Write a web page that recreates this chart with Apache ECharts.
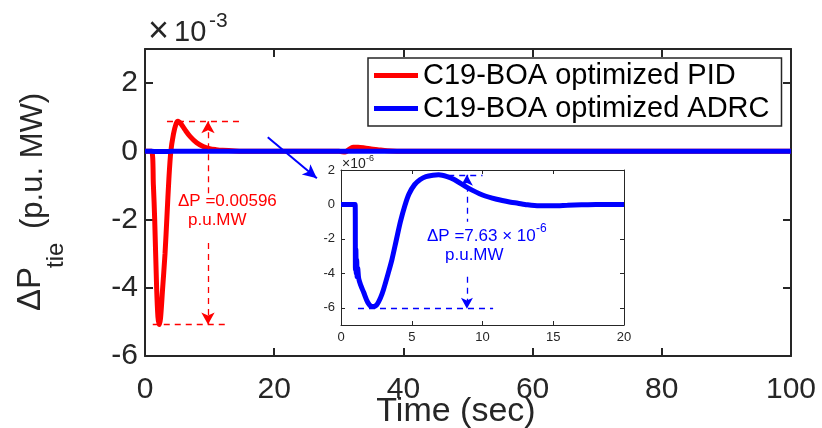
<!DOCTYPE html>
<html>
<head>
<meta charset="utf-8">
<script src="https://cdn.jsdelivr.net/npm/echarts@6/dist/echarts.min.js"></script>
<style>
  html, body { margin: 0; padding: 0; background: #fff; }
  #chart { width: 822px; height: 428px; }
</style>
</head>
<body>
<div id="chart"></div>
<script>
// main plot, values in units of 1e-3 p.u. MW
const pidTime = [0, 1.0, 1.3, 1.5, 1.8, 2.0, 2.2, 2.4, 2.7, 3.1, 3.4, 3.7, 4.0, 4.4, 4.8, 5.1, 5.6, 6.2, 7.0, 8.0,
  9.0, 10.0, 11.0, 12.0, 14.0, 16.0, 30.0, 31.0, 31.6, 32.2, 33.0, 34.0, 35.0, 36.0, 37.5, 39.0, 41.0, 100];
const pidVal = [0, 0, -1.0, -2.0, -4.0, -4.85, -5.08, -4.9, -4.1, -3.0, -1.9, -0.8, 0.0, 0.5, 0.8, 0.88, 0.8, 0.63, 0.43, 0.25,
  0.14, 0.08, 0.05, 0.03, 0.01, 0, 0, -0.02, 0.06, 0.12, 0.12, 0.1, 0.07, 0.05, 0.02, 0.005, 0, 0];

// inset, values in units of 1e-6 p.u. MW
const adrcTime = [0, 1.0, 1.02, 1.05, 1.08, 1.11, 1.14, 1.18, 1.25, 1.4, 1.6, 1.9, 2.2, 2.5, 2.8, 3.0, 3.3, 3.6, 3.9, 4.2,
  4.5, 4.8, 5.2, 5.6, 6.0, 6.5, 6.9, 7.5, 8.0, 9.0, 10.0, 11.0, 12.0, 12.5, 13.0, 14.0, 15.0, 16.0, 17.0, 18.0, 20.0];
const adrcVal = [0, 0, -3.8, -2.6, -4.0, -3.2, -4.2, -3.7, -4.3, -4.7, -5.1, -5.7, -5.93, -5.85, -5.4, -4.95, -4.1, -3.2, -2.1, -1.0,
  -0.1, 0.6, 1.15, 1.45, 1.62, 1.7, 1.72, 1.62, 1.45, 0.95, 0.55, 0.3, 0.13, 0.07, 0.0, -0.08, -0.08, -0.05, -0.02, 0, 0];
const adrcEndTime = 100;

const mainXTicks = [0, 20, 40, 60, 80, 100];
const mainYTicks = [-6, -4, -2, 0, 2];
const insetXTicks = [0, 5, 10, 15, 20];
const insetYTicks = [-6, -4, -2, 0, 2];

const names = ["C19-BOA optimized PID", "C19-BOA optimized ADRC"];

const FONT = "'Liberation Sans', Arial, sans-serif";
const AX = "#262626";
const RED = "#ff0000";
const BLUE = "#0000ff";

const pidData = pidTime.map((t, i) => [t, pidVal[i]]);
const adrcInset = adrcTime.map((t, i) => [t, adrcVal[i]]);
// same response on the 1e-3 scale of the main axes
const adrcMain = adrcTime.map((t, i) => [t, adrcVal[i] / 1000]).concat([[adrcEndTime, 0]]);

function dash(color) {
  return { color: color, width: 1.3, type: [6, 5] };
}

let myChart = echarts.init(document.getElementById("chart"));

function axisX(grid, pos, min, max, interval, ticks, size, show, tickLen) {
  return {
    type: "value", gridIndex: grid, position: pos, min: min, max: max, interval: interval,
    z: grid === 0 ? 2 : 8,
    axisLine: { show: true, onZero: false, lineStyle: { color: AX, width: grid === 0 ? 2 : 1 } },
    axisTick: { show: true, inside: true, length: tickLen, lineStyle: { color: AX, width: grid === 0 ? 2 : 1 }, customValues: ticks },
    axisLabel: { show: show, color: AX, fontSize: size, fontFamily: FONT, margin: grid === 0 ? 19 : 6, customValues: ticks },
    splitLine: { show: false },
  };
}
function axisY(grid, pos, min, max, ticks, size, show, tickLen) {
  return {
    type: "value", gridIndex: grid, position: pos, min: min, max: max,
    z: grid === 0 ? 2 : 8,
    axisLine: { show: true, onZero: false, lineStyle: { color: AX, width: grid === 0 ? 2 : 1 } },
    axisTick: { show: true, inside: true, length: tickLen, lineStyle: { color: AX, width: grid === 0 ? 2 : 1 }, customValues: ticks },
    axisLabel: { show: show, color: AX, fontSize: size, fontFamily: FONT, margin: grid === 0 ? 7 : 6, customValues: ticks },
    splitLine: { show: false },
  };
}

const xMain = axisX(0, "bottom", 0, 100, 20, mainXTicks, 30, true, 8);
xMain.name = "Time (sec)";
xMain.nameLocation = "middle";
xMain.nameGap = 39;
xMain.nameMoveOverlap = false;
xMain.nameTextStyle = { color: AX, fontSize: 34, fontFamily: FONT, padding: [0, 24, 0, 0] };

var options = {
  animation: false,
  backgroundColor: "#fff",
  textStyle: { fontFamily: FONT },
  grid: [
    { left: 145, top: 49, width: 646, height: 307, show: false, outerBoundsMode: "none", containLabel: false },
    { left: 341, top: 170, width: 283, height: 155, show: true, backgroundColor: "#fff", borderWidth: 0, z: 6,
      outerBoundsMode: "none", containLabel: false },
  ],
  legend: {
    data: names,
    orient: "vertical",
    left: 368,
    top: 58,
    padding: [3, 12, 3, 6],
    itemGap: 4,
    itemWidth: 44,
    itemHeight: 5,
    icon: "rect",
    backgroundColor: "#fff",
    borderColor: AX,
    borderWidth: 1.5,
    borderRadius: 0,
    textStyle: { color: "#000", fontSize: 29, lineHeight: 26, fontFamily: FONT },
  },
  xAxis: [
    xMain,
    axisX(0, "top", 0, 100, 20, mainXTicks, 30, false, 8),
    axisX(1, "bottom", 0, 20, 5, insetXTicks, 13, true, 4),
    axisX(1, "top", 0, 20, 5, insetXTicks, 13, false, 4),
  ],
  yAxis: [
    axisY(0, "left", -6, 3, mainYTicks, 30, true, 8),
    axisY(0, "right", -6, 3, mainYTicks, 30, false, 8),
    axisY(1, "left", -7, 2, insetYTicks, 13, true, 4),
    axisY(1, "right", -7, 2, insetYTicks, 13, false, 4),
  ],
  series: [
    {
      name: names[0], type: "line", xAxisIndex: 0, yAxisIndex: 0,
      data: pidData, showSymbol: false, smooth: 0.3,
      lineStyle: { color: RED, width: 5 }, itemStyle: { color: RED },
      markLine: {
        silent: true, animation: false, symbol: "none", symbolSize: [10, 12],
        label: { show: false },
        data: [
          [{ coord: [3.4, 0.88], lineStyle: dash(RED) }, { coord: [15.2, 0.88] }],
          [{ coord: [1.2, -5.08], lineStyle: dash(RED) }, { coord: [12.8, -5.08] }],
          [{ coord: [9.75, 0.88], symbol: "arrow", lineStyle: dash(RED) }, { coord: [9.75, -1.34], symbol: "none" }],
          [{ coord: [9.75, -2.69], symbol: "none", lineStyle: dash(RED) }, { coord: [9.75, -5.08], symbol: "arrow" }],
        ],
      },
    },
    {
      name: names[1], type: "line", xAxisIndex: 0, yAxisIndex: 0,
      data: adrcMain, showSymbol: false,
      lineStyle: { color: BLUE, width: 5 }, itemStyle: { color: BLUE },
      markLine: {
        silent: true, animation: false, symbolSize: [10, 14],
        label: { show: false },
        data: [
          [{ coord: [19.0, 0.41], symbol: "none", lineStyle: { color: BLUE, width: 2, type: "solid" } },
           { coord: [26.6, -0.79], symbol: "arrow" }],
        ],
      },
    },
    {
      name: names[1], type: "line", xAxisIndex: 2, yAxisIndex: 2, z: 9,
      data: adrcInset, showSymbol: false, smooth: 0.3,
      lineStyle: { color: BLUE, width: 5 }, itemStyle: { color: BLUE },
      markLine: {
        silent: true, animation: false, symbol: "none", symbolSize: [9, 11], z: 12,
        label: { show: false },
        data: [
          [{ coord: [6.8, 1.72], lineStyle: dash(BLUE) }, { coord: [10.0, 1.72] }],
          [{ coord: [1.2, -6.05], lineStyle: dash(BLUE) }, { coord: [10.75, -6.05] }],
          [{ coord: [8.9, 1.72], symbol: "arrow", lineStyle: dash(BLUE) }, { coord: [8.9, -1.0], symbol: "none" }],
          [{ coord: [8.9, -4.2], symbol: "none", lineStyle: dash(BLUE) }, { coord: [8.9, -6.05], symbol: "arrow" }],
        ],
      },
    },
  ],
  graphic: [
    // y axis title, rotated, with subscript
    { type: "text", x: 31, y: 311, rotation: Math.PI / 2,
      style: { text: "ΔP", fill: AX, font: "33px " + FONT, textAlign: "left", textVerticalAlign: "middle" } },
    { type: "text", x: 56, y: 268, rotation: Math.PI / 2,
      style: { text: "tie", fill: AX, font: "24px " + FONT, textAlign: "left", textVerticalAlign: "middle" } },
    { type: "text", x: 33, y: 229, rotation: Math.PI / 2,
      style: { text: "(p.u. MW)", fill: AX, font: "31px " + FONT, textAlign: "left", textVerticalAlign: "middle" } },
    // exponent of the main y axis
    { type: "text", left: 148, top: 14, style: { text: "×", fill: AX, font: "36px " + FONT } },
    { type: "text", left: 174, top: 18, style: { text: "10", fill: AX, font: "29px " + FONT } },
    { type: "text", left: 209, top: 11, style: { text: "-3", fill: AX, font: "21px " + FONT } },
    // exponent of the inset y axis
    { type: "text", left: 342, top: 157, z: 10, style: { text: "×10", fill: AX, font: "14px " + FONT } },
    { type: "text", left: 366, top: 154, z: 10, style: { text: "-6", fill: AX, font: "9px " + FONT } },
    // red annotation
    { type: "text", left: 178, top: 193, z: 10, style: { text: "ΔP =0.00596", fill: RED, font: "17px " + FONT } },
    { type: "text", left: 188, top: 212, z: 10, style: { text: "p.u.MW", fill: RED, font: "17px " + FONT } },
    // blue annotation
    { type: "text", left: 427, top: 228, z: 20, style: { text: "ΔP =7.63 × 10", fill: BLUE, font: "17px " + FONT } },
    { type: "text", left: 536, top: 223, z: 20, style: { text: "-6", fill: BLUE, font: "12px " + FONT } },
    { type: "text", left: 445, top: 247, z: 20, style: { text: "p.u.MW", fill: BLUE, font: "17px " + FONT } },
  ],
};
myChart.setOption(options);
</script>
</body>
</html>
